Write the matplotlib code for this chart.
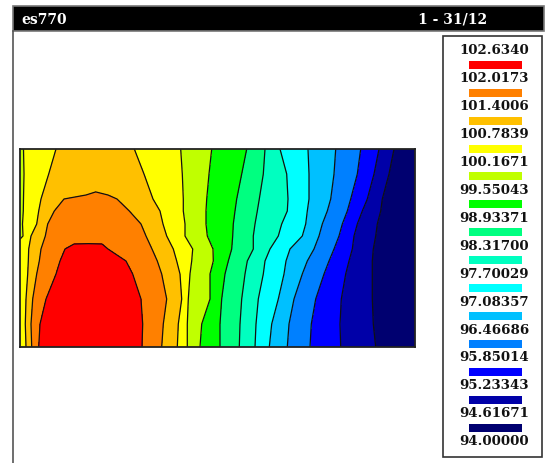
import matplotlib

matplotlib.use("Agg")
import matplotlib.pyplot as plt
import matplotlib.tri as mtri
from matplotlib.patches import Rectangle
import numpy as np

W, H = 546, 464
FONT = ["DejaVu Serif"]

# legend labels as printed (top to bottom) and the band colours (low -> high)
LEVEL_LABELS = ["102.6340", "102.0173", "101.4006", "100.7839", "100.1671",
                "99.55043", "98.93371", "98.31700", "97.70029", "97.08357",
                "96.46686", "95.85014", "95.23343", "94.61671", "94.00000"]
LEVELS = [94.0, 94.61671, 95.23343, 95.85014, 96.46686, 97.08357, 97.70029,
          98.31700, 98.93371, 99.55043, 100.1671, 100.7839, 101.4006,
          102.0173, 102.6340]
BAND_COLORS = ["#000070", "#0000a8", "#0000ff", "#0080ff", "#00c0ff", "#00ffff",
               "#00ffc0", "#00ff80", "#00ff00", "#c0ff00", "#ffff00", "#ffc000",
               "#ff8000", "#ff0000"]
L = LEVELS

# field: x along the section (0..395), y height (0..198)
# each row lists where the value crosses a contour level, plus edge / peak values
X_198 = [0, 3.5, 36, 75, 114.3, 160.7, 191.7, 226.7, 245, 260, 288, 315.7, 340.7, 359, 374, 395]
Z_198 = [100.08, L[10], L[11], 101.15, L[11], L[10], L[9], L[8], L[7], L[6], L[5], L[4], L[3], L[2], L[1], 94.0]

X_173 = [0, 4, 28.7, 75, 124, 162.3, 189, 221.7, 243.3, 266.7, 289, 314, 337.3, 354, 369, 395]
Z_173 = [100.08, L[10], L[11], 101.2, L[11], L[10], L[9], L[8], L[7], L[6], L[5], L[4], L[3], L[2], L[1], 94.0]

X_152 = [66, 88]                      # top of the orange zone
Z_152 = [L[12], L[12]]

X_148 = [0, 3.5, 21, 44, 76, 97, 133, 163.3, 186.7, 216.7, 239.3, 268, 289, 310.7, 330.7, 347.3, 362.3, 395]
Z_148 = [100.1, L[10], L[11], L[12], 101.48, L[12], L[11], L[10], L[9], L[8], L[7], L[6], L[5], L[4], L[3], L[2], L[1], 94.0]

X_136 = [0, 3.3, 18.7, 34.3, 72, 109.3, 140, 163.3, 186, 215, 237.3, 267.3, 287.3, 307.3, 327.3, 342.3, 360.7, 395]
Z_136 = [100.1, L[10], L[11], L[12], 101.65, L[12], L[11], L[10], L[9], L[8], L[7], L[6], L[5], L[4], L[3], L[2], L[1], 94.0]

X_123 = [0, 2.5, 16.7, 27.7, 72, 121, 143, 165, 186, 213.3, 235, 261.7, 285.7, 302.3, 322.3, 337.3, 357.3, 395]
Z_123 = [100.12, L[10], L[11], L[12], 101.78, L[12], L[11], L[10], L[9], L[8], L[7], L[6], L[5], L[4], L[3], L[2], L[1], 94.0]

X_111 = [0, 3, 11, 25.3, 72, 126, 146.7, 165, 187.3, 212.7, 233.3, 258.3, 282.3, 299, 319, 334, 355.7, 395]
Z_111 = [100.14, L[10], L[11], L[12], 101.9, L[12], L[11], L[10], L[9], L[8], L[7], L[6], L[5], L[4], L[3], L[2], L[1], 94.0]

X_103 = [54, 82]                      # top of the red zone
Z_103 = [L[13], L[13]]

X_98 = [0, 8.7, 21, 45, 66, 88, 132, 153.3, 172.7, 193, 211.7, 233.3, 250, 270, 294, 314, 332.3, 353.3, 395]
Z_98 = [100.25, L[11], L[12], L[13], 102.1, L[13], L[12], L[11], L[10], L[9], L[8], L[7], L[6], L[5], L[4], L[3], L[2], L[1], 94.0]

X_86 = [0, 8.3, 19.3, 40, 72, 106, 137.3, 156.7, 171.7, 193.3, 208.3, 227.3, 245, 266, 287.3, 309, 329, 352.3, 395]
Z_86 = [100.3, L[11], L[12], L[13], 102.25, L[13], L[12], L[11], L[10], L[9], L[8], L[7], L[6], L[5], L[4], L[3], L[2], L[1], 94.0]

X_73 = [0, 7.7, 16.7, 36, 74, 112.7, 141.7, 160, 170, 190, 205, 225, 243.3, 264, 282.3, 304, 325.7, 352.3, 395]
Z_73 = [100.4, L[11], L[12], L[13], 102.4, L[13], L[12], L[11], L[10], L[9], L[8], L[7], L[6], L[5], L[4], L[3], L[2], L[1], 94.0]

X_48 = [0, 6, 12.7, 26, 73, 121, 146.7, 161.7, 168.3, 190, 201.7, 221.7, 238.3, 258.3, 274, 295.7, 321.3, 352.3, 395]
Z_48 = [100.45, L[11], L[12], L[13], 102.55, L[13], L[12], L[11], L[10], L[9], L[8], L[7], L[6], L[5], L[4], L[3], L[2], L[1], 94.0]

X_23 = [0, 5.3, 11, 20, 71, 122.7, 143.3, 158.3, 167.3, 181.7, 200, 220, 236, 251.7, 269, 291.3, 320, 353.3, 395]
Z_23 = [100.45, L[11], L[12], L[13], 102.6, L[13], L[12], L[11], L[10], L[9], L[8], L[7], L[6], L[5], L[4], L[3], L[2], L[1], 94.0]

X_0 = [0, 6, 11.7, 18.7, 70, 122, 141.7, 157.3, 167.3, 180, 200, 219.3, 235, 249.3, 267.3, 290, 320.7, 355.7, 395]
Z_0 = [100.45, L[11], L[12], L[13], 102.63, L[13], L[12], L[11], L[10], L[9], L[8], L[7], L[6], L[5], L[4], L[3], L[2], L[1], 94.0]

ROWS = [(198, X_198, Z_198), (173, X_173, Z_173), (152, X_152, Z_152),
        (148, X_148, Z_148), (136, X_136, Z_136), (123, X_123, Z_123),
        (111, X_111, Z_111), (103, X_103, Z_103), (98, X_98, Z_98),
        (86, X_86, Z_86), (73, X_73, Z_73), (48, X_48, Z_48),
        (23, X_23, Z_23), (0, X_0, Z_0)]

xs = np.concatenate([np.asarray(xr, float) for _, xr, _ in ROWS])
ys = np.concatenate([np.full(len(xr), y, float) for y, xr, _ in ROWS])
zs = np.concatenate([np.asarray(zr, float) for _, _, zr in ROWS])
tri = mtri.Triangulation(xs, ys)

fig = plt.figure(figsize=(W / 100, H / 100), dpi=100)
fig.patch.set_facecolor("white")

# frame, title bar and legend drawn in pixel coordinates
ov = fig.add_axes([0, 0, 1, 1])
ov.set_xlim(0, W)
ov.set_ylim(H, 0)
ov.axis("off")
ov.plot([13, 13], [32, H], color="#555555", lw=1.2)
ov.add_patch(Rectangle((13, 7), 531, 25, facecolor="black", edgecolor="#777777", lw=1.2))
ov.text(21, 19.5, "es770", color="white", fontsize=10, fontweight="bold", family=FONT,
        ha="left", va="center")
ov.text(487, 19.5, "1 - 31/12", color="white", fontsize=10, fontweight="bold", family=FONT,
        ha="right", va="center")

ov.add_patch(Rectangle((443, 37), 99, 421, facecolor="white", edgecolor="#333333", lw=1.2))
step = 27.92
for i, lab in enumerate(LEVEL_LABELS):
    yc = 50.8 + i * step
    ov.text(494, yc, lab, color="#111111", fontsize=9.6, fontweight="bold", family=FONT,
            ha="center", va="center")
    if i < len(LEVEL_LABELS) - 1:
        col = BAND_COLORS[len(BAND_COLORS) - 1 - i]
        ov.add_patch(Rectangle((469, yc + 11), 53, 8, facecolor=col, edgecolor="none"))

# contour map
ax = fig.add_axes([20 / W, (H - 348) / H, 395 / W, 198 / H])
ax.tricontourf(tri, zs, levels=LEVELS, colors=BAND_COLORS)
ax.tricontour(tri, zs, levels=LEVELS[1:-1], colors="#111111", linewidths=0.9)
ax.set_xlim(0, 395)
ax.set_ylim(0, 198)
ax.set_xticks([])
ax.set_yticks([])
for s in ax.spines.values():
    s.set_color("#222222")
    s.set_linewidth(1.3)

fig.savefig("out.png", dpi=100, facecolor="white")
